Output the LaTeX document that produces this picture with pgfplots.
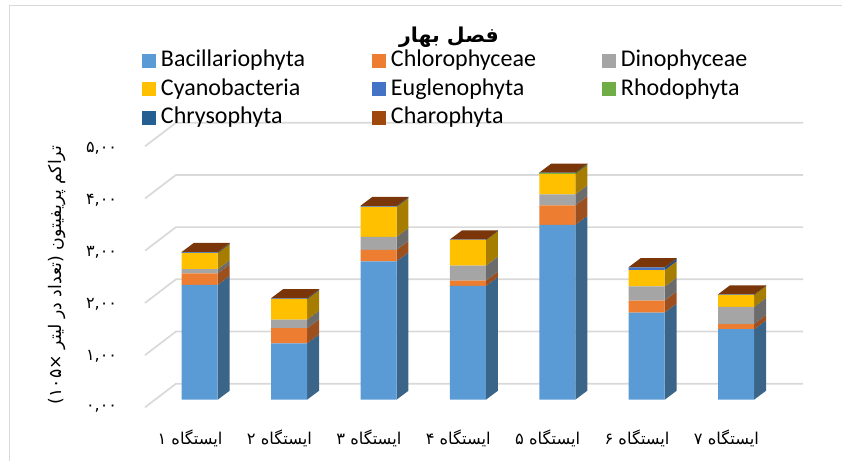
\documentclass[border=0pt]{standalone}
\usepackage{fontspec}
\usepackage{pgfplots}
\usepackage{pgfplotstable}
\pgfplotsset{compat=1.18}
\TeXXeTstate=1
\setmainfont{Carlito}
\newfontfamily\arabicfont[Script=Arabic]{DejaVu Sans}
\newcommand\faL[1]{{\arabicfont\beginL #1\endL}}
\definecolor{cBac}{HTML}{5B9BD5}\definecolor{cChl}{HTML}{ED7D31}
\definecolor{cDin}{HTML}{A5A5A5}\definecolor{cCya}{HTML}{FFC000}
\definecolor{cEug}{HTML}{4472C4}\definecolor{cRho}{HTML}{70AD47}
\definecolor{cChr}{HTML}{255E91}\definecolor{cCha}{HTML}{9E480E}
\definecolor{sBac}{HTML}{3A6589}\definecolor{sChl}{HTML}{9C5020}
\definecolor{sDin}{HTML}{6C6C6C}\definecolor{sCya}{HTML}{A67D00}
\definecolor{sEug}{HTML}{2C4A80}\definecolor{sRho}{HTML}{49712E}
\definecolor{sChr}{HTML}{183D5E}\definecolor{sCha}{HTML}{673009}
\definecolor{tCha}{HTML}{7A3608}
\definecolor{gridc}{HTML}{D9D9D9}
\pgfplotstableread{
st Bac Chl Din Cya Eug Rho Chr Cha
1 2.20 0.22 0.08 0.31 0.010 0.000 0.005 0.005
2 1.08 0.29 0.165 0.39 0.010 0.000 0.005 0.005
3 2.65 0.22 0.25 0.575 0.010 0.000 0.005 0.005
4 2.18 0.10 0.29 0.49 0.005 0.000 0.003 0.002
5 3.35 0.375 0.21 0.39 0.000 0.020 0.003 0.002
6 1.67 0.23 0.27 0.31 0.050 0.000 0.005 0.005
7 1.35 0.10 0.33 0.23 0.005 0.000 0.003 0.002
}\datatable
\newcommand\oneface[3]{%
  \pgfplotstablegetelem{#1}{#2}\of\datatable
  \pgfmathsetmacro\yb{\cum}%
  \pgfmathsetmacro\yt{\cum+\pgfplotsretval}%
  \pgfmathsetmacro\xa{#1+1+0.2013}%
  \pgfmathsetmacro\xb{\xa+0.1342}%
  \pgfmathsetmacro\ybb{\yb+0.1724}%
  \pgfmathsetmacro\ytt{\yt+0.1724}%
  \edef\temp{\noexpand\addplot[fill=#3,draw=none,forget plot] coordinates {(\xa,\yb)(\xb,\ybb)(\xb,\ytt)(\xa,\yt)};}\temp
  \global\let\cum\yt
}
\newcommand\faces[1]{%
  \gdef\cum{0}%
  \oneface{#1}{Bac}{sBac}\oneface{#1}{Chl}{sChl}\oneface{#1}{Din}{sDin}\oneface{#1}{Cya}{sCya}%
  \oneface{#1}{Eug}{sEug}\oneface{#1}{Rho}{sRho}\oneface{#1}{Chr}{sChr}\oneface{#1}{Cha}{sCha}%
  \pgfmathsetmacro\xl{#1+1-0.2013}%
  \pgfmathsetmacro\xr{#1+1+0.2013}%
  \pgfmathsetmacro\xs{0.1342}%
  \pgfmathsetmacro\xlb{\xl+\xs}%
  \pgfmathsetmacro\xrb{\xr+\xs}%
  \pgfmathsetmacro\tb{\cum+0.1724}%
  \edef\temp{\noexpand\addplot[fill=tCha,draw=none,forget plot] coordinates {(\xl,\cum)(\xr,\cum)(\xrb,\tb)(\xlb,\tb)};}\temp
}
\pgfplotsset{common/.style={
  at={(145pt,41pt)},anchor=south west,scale only axis,width=658pt,height=310pt,
  xmin=0.3882,xmax=7.7483,ymin=-0.389,ymax=5.55,clip=false,
}}
\begin{document}
\begin{tikzpicture}
\path[use as bounding box] (0pt,0pt) rectangle (842pt,461pt);
\draw[gridc,line width=1.7pt] (9.5pt,0pt) -- (9.5pt,455.5pt) -- (842pt,455.5pt);
\begin{axis}[common,hide axis]
\addplot[gridc,line width=1.7pt,forget plot] coordinates {(0.3882,-0.146) (0.7349,0.3065) (7.7483,0.3065)};

\addplot[gridc,line width=1.7pt,forget plot] coordinates {(0.3882,0.854) (0.7349,1.3065) (7.7483,1.3065)};

\addplot[gridc,line width=1.7pt,forget plot] coordinates {(0.3882,1.854) (0.7349,2.3065) (7.7483,2.3065)};

\addplot[gridc,line width=1.7pt,forget plot] coordinates {(0.3882,2.854) (0.7349,3.3065) (7.7483,3.3065)};

\addplot[gridc,line width=1.7pt,forget plot] coordinates {(0.3882,3.854) (0.7349,4.3065) (7.7483,4.3065)};

\addplot[gridc,line width=1.7pt,forget plot] coordinates {(0.3882,4.854) (0.7349,5.3065) (7.7483,5.3065)};

\faces{0}\faces{1}\faces{2}\faces{3}\faces{4}\faces{5}\faces{6}
\end{axis}
\begin{axis}[common,
  ybar stacked,bar width=36pt,
  axis line style={draw=none},
  major tick length=0pt,
  xtick={0.892,1.892,2.892,3.892,4.892,5.892,6.892},
  xticklabels={{\arabicfont\beginR ایستگاه ۱\endR},{\arabicfont\beginR ایستگاه ۲\endR},{\arabicfont\beginR ایستگاه ۳\endR},{\arabicfont\beginR ایستگاه ۴\endR},{\arabicfont\beginR ایستگاه ۵\endR},{\arabicfont\beginR ایستگاه ۶\endR},{\arabicfont\beginR ایستگاه ۷\endR}},
  ytick={-0.146,0.854,1.854,2.854,3.854,4.854},
  yticklabels={\faL{۰,۰۰},\faL{۱,۰۰},\faL{۲,۰۰},\faL{۳,۰۰},\faL{۴,۰۰},\faL{۵,۰۰}},
  xticklabel style={font=\fontsize{16.3}{19}\selectfont,anchor=center,yshift=-18pt},
  yticklabel style={font=\fontsize{16}{19}\selectfont,anchor=east,xshift=-24.5pt,yshift=-1.5pt},
  title={{\arabicfont\beginR فصل بهار\endR}},
  title style={font=\fontsize{20.5}{24}\selectfont\bfseries,at={(axis description cs:0.462,1.215)},anchor=center},
  ylabel={{\arabicfont\beginR تراکم پریفیتون (تعداد در لیتر ×\beginL ۱۰۵\endL)\endR}},
  ylabel style={font=\fontsize{17.3}{20}\selectfont,at={(axis description cs:-0.1337,0.468)},anchor=center},
  legend columns=3,
  legend image code/.code={\fill[#1] (0pt,-4.5pt) rectangle (14pt,9.5pt);},
  legend style={draw=none,fill=none,inner sep=0pt,outer sep=0pt,anchor=north west,
    at={(axis description cs:-0.0046,1.197)},row sep=0pt,column sep=5pt,
    font=\fontsize{24}{28}\selectfont,cells={anchor=west},
    nodes={inner sep=0pt,text height=18pt,text depth=10.5pt}},
]
\addplot[fill=cBac,draw=none] table[x=st,y=Bac]{\datatable};
\addplot[fill=cChl,draw=none] table[x=st,y=Chl]{\datatable};
\addplot[fill=cDin,draw=none] table[x=st,y=Din]{\datatable};
\addplot[fill=cCya,draw=none] table[x=st,y=Cya]{\datatable};
\addplot[fill=cEug,draw=none] table[x=st,y=Eug]{\datatable};
\addplot[fill=cRho,draw=none] table[x=st,y=Rho]{\datatable};
\addplot[fill=cChr,draw=none] table[x=st,y=Chr]{\datatable};
\addplot[fill=cCha,draw=none] table[x=st,y=Cha]{\datatable};
\legend{\makebox[206pt][l]{Bacillariophyta},\makebox[206pt][l]{Chlorophyceae},\makebox[206pt][l]{Dinophyceae},
\makebox[206pt][l]{Cyanobacteria},\makebox[206pt][l]{Euglenophyta},\makebox[206pt][l]{Rhodophyta},
\makebox[206pt][l]{Chrysophyta},\makebox[206pt][l]{Charophyta}}
\end{axis}
\end{tikzpicture}
\end{document}
